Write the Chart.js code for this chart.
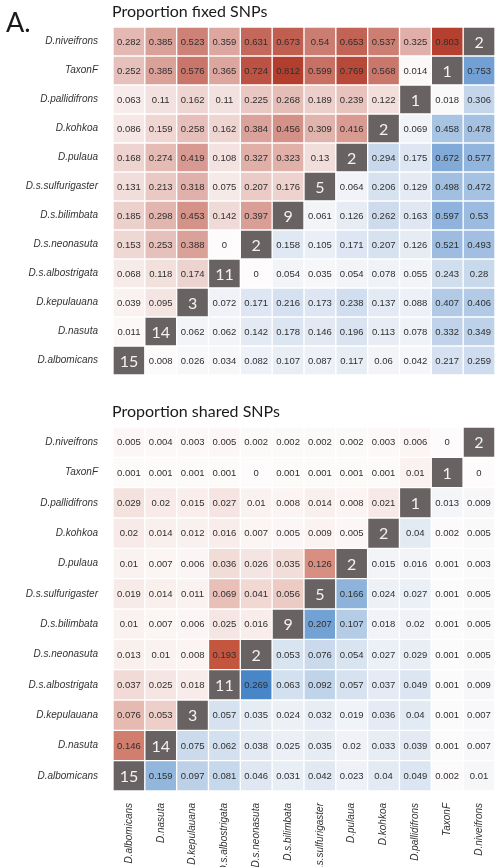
<!DOCTYPE html>
<html>
<head>
<meta charset="utf-8">
<script src="https://cdn.jsdelivr.net/npm/chart.js@4.4.1/dist/chart.umd.min.js"></script>
<style>
  html, body { margin: 0; padding: 0; background: #fff; }
  #page { position: relative; width: 495px; height: 867px; overflow: hidden; }
  .box { position: absolute; left: 0; width: 495px; }
  .heading { position: absolute; font-family: Lato, "Open Sans", sans-serif; color: #1a1a1a; line-height: 1; white-space: nowrap; }
</style>
</head>
<body>
<div id="page">
  <div class="box" style="top:0; height:388px;"><canvas id="fixedChart"></canvas></div>
  <div class="box" style="top:400px; height:467px;"><canvas id="sharedChart"></canvas></div>
  <div class="heading" style="left:6px; top:8px; font-size:27px;">A.</div>
  <div class="heading" style="left:112px; top:3px; font-size:16px;">Proportion fixed SNPs</div>
  <div class="heading" style="left:112px; top:403px; font-size:16px;">Proportion shared SNPs</div>
</div>
<script>
// Taxa in column order (left to right); rows use the same taxa from the bottom up.
const taxa = ['D.albomicans', 'D.nasuta', 'D.kepulauana', 'D.s.albostrigata', 'D.s.neonasuta',
  'D.s.bilimbata', 'D.s.sulfurigaster', 'D.pulaua', 'D.kohkoa', 'D.pallidifrons', 'TaxonF', 'D.niveifrons'];

// Number of individuals per taxon, shown on the diagonal.
const sampleSizes = [15, 14, 3, 11, 2, 9, 5, 2, 2, 1, 1, 2];

// Rows listed from the top (D.niveifrons) down to D.albomicans; null marks the diagonal.
const fixedProportion = [
  [0.282, 0.385, 0.523, 0.359, 0.631, 0.673, 0.54, 0.653, 0.537, 0.325, 0.803, null],
  [0.252, 0.385, 0.576, 0.365, 0.724, 0.812, 0.599, 0.769, 0.568, 0.014, null, 0.753],
  [0.063, 0.11, 0.162, 0.11, 0.225, 0.268, 0.189, 0.239, 0.122, null, 0.018, 0.306],
  [0.086, 0.159, 0.258, 0.162, 0.384, 0.456, 0.309, 0.416, null, 0.069, 0.458, 0.478],
  [0.168, 0.274, 0.419, 0.108, 0.327, 0.323, 0.13, null, 0.294, 0.175, 0.672, 0.577],
  [0.131, 0.213, 0.318, 0.075, 0.207, 0.176, null, 0.064, 0.206, 0.129, 0.498, 0.472],
  [0.185, 0.298, 0.453, 0.142, 0.397, null, 0.061, 0.126, 0.262, 0.163, 0.597, 0.53],
  [0.153, 0.253, 0.388, 0, null, 0.158, 0.105, 0.171, 0.207, 0.126, 0.521, 0.493],
  [0.068, 0.118, 0.174, null, 0, 0.054, 0.035, 0.054, 0.078, 0.055, 0.243, 0.28],
  [0.039, 0.095, null, 0.072, 0.171, 0.216, 0.173, 0.238, 0.137, 0.088, 0.407, 0.406],
  [0.011, null, 0.062, 0.062, 0.142, 0.178, 0.146, 0.196, 0.113, 0.078, 0.332, 0.349],
  [null, 0.008, 0.026, 0.034, 0.082, 0.107, 0.087, 0.117, 0.06, 0.042, 0.217, 0.259]
];

const sharedProportion = [
  [0.005, 0.004, 0.003, 0.005, 0.002, 0.002, 0.002, 0.002, 0.003, 0.006, 0, null],
  [0.001, 0.001, 0.001, 0.001, 0, 0.001, 0.001, 0.001, 0.001, 0.01, null, 0],
  [0.029, 0.02, 0.015, 0.027, 0.01, 0.008, 0.014, 0.008, 0.021, null, 0.013, 0.009],
  [0.02, 0.014, 0.012, 0.016, 0.007, 0.005, 0.009, 0.005, null, 0.04, 0.002, 0.005],
  [0.01, 0.007, 0.006, 0.036, 0.026, 0.035, 0.126, null, 0.015, 0.016, 0.001, 0.003],
  [0.019, 0.014, 0.011, 0.069, 0.041, 0.056, null, 0.166, 0.024, 0.027, 0.001, 0.005],
  [0.01, 0.007, 0.006, 0.025, 0.016, null, 0.207, 0.107, 0.018, 0.02, 0.001, 0.005],
  [0.013, 0.01, 0.008, 0.193, null, 0.053, 0.076, 0.054, 0.027, 0.029, 0.001, 0.005],
  [0.037, 0.025, 0.018, null, 0.269, 0.063, 0.092, 0.057, 0.037, 0.049, 0.001, 0.009],
  [0.076, 0.053, null, 0.057, 0.035, 0.024, 0.032, 0.019, 0.036, 0.04, 0.001, 0.007],
  [0.146, null, 0.075, 0.062, 0.038, 0.025, 0.035, 0.02, 0.033, 0.039, 0.001, 0.007],
  [null, 0.159, 0.097, 0.081, 0.046, 0.031, 0.042, 0.023, 0.04, 0.049, 0.002, 0.01]
];

const DIAGONAL_COLOR = '#686262';
const PALE = [253, 251, 251];

function blend(hi, t) {
  const k = Math.max(0, Math.min(1, t));
  return 'rgb(' + PALE.map((lo, i) => Math.round(lo + (hi[i] - lo) * k)).join(',') + ')';
}

// One floating-bar dataset per row; each bar spans [row, row + 1] on the y scale.
function buildDatasets(matrix, redTop, blueTop) {
  const n = taxa.length;
  let redMax = 0, blueMax = 0;
  matrix.forEach((row, i) => row.forEach((v, c) => {
    const k = n - 1 - i;
    if (v === null) return;
    if (c < k) redMax = Math.max(redMax, v); else blueMax = Math.max(blueMax, v);
  }));
  return taxa.map((name, k) => {
    const row = matrix[n - 1 - k];
    return {
      label: name,
      data: taxa.map(() => [k, k + 1]),
      backgroundColor: row.map((v, c) => c === k ? DIAGONAL_COLOR
        : (c < k ? blend(redTop, v / redMax) : blend(blueTop, v / blueMax))),
      cellText: row.map((v, c) => c === k ? String(sampleSizes[k]) : String(v))
    };
  });
}

// Writes each cell's value in the middle of its bar.
const cellText = {
  id: 'cellText',
  afterDatasetsDraw(chart) {
    const ctx = chart.ctx;
    ctx.save();
    ctx.textAlign = 'center';
    ctx.textBaseline = 'middle';
    chart.data.datasets.forEach((ds, di) => {
      const meta = chart.getDatasetMeta(di);
      meta.data.forEach((bar, c) => {
        const cx = bar.x;
        const cy = (bar.y + bar.base) / 2;
        if (c === di) {
          ctx.font = '16px Lato, "Open Sans", sans-serif';
          ctx.fillStyle = '#f4f2f2';
          ctx.fillText(ds.cellText[c], cx, cy + 1);
        } else {
          ctx.font = '9.5px "Liberation Sans", Arial, sans-serif';
          ctx.fillStyle = '#2f2f2f';
          ctx.fillText(ds.cellText[c], cx, cy + 0.5);
        }
      });
    });
    ctx.restore();
  }
};

const labelFont = { family: '"Liberation Sans", Arial, sans-serif', size: 10, style: 'italic' };

function columnAxis(showColumns) {
  if (!showColumns) {
    return { display: false, grid: { display: false }, ticks: { display: false } };
  }
  return {
    grid: { display: false },
    border: { display: false },
    ticks: {
      autoSkip: false, minRotation: 90, maxRotation: 90,
      font: labelFont, color: '#333', padding: 4
    },
    afterFit(scale) { scale.height = 76; }
  };
}

function makeHeatmap(canvasId, matrix, redTop, blueTop, showColumns) {
  return new Chart(document.getElementById(canvasId), {
    type: 'bar',
    data: { labels: taxa, datasets: buildDatasets(matrix, redTop, blueTop) },
    options: {
      responsive: true,
      maintainAspectRatio: false,
      animation: false,
      devicePixelRatio: 1,
      layout: { padding: { top: 27, right: 0, bottom: 0, left: 0 } },
      datasets: {
        bar: {
          grouped: false,
          categoryPercentage: 1,
          barPercentage: 1,
          borderWidth: 1,
          borderColor: '#ffffff',
          borderSkipped: false
        }
      },
      scales: {
        x: columnAxis(showColumns),
        y: {
          min: 0,
          max: taxa.length,
          grid: { display: false },
          border: { display: false },
          afterBuildTicks(scale) { scale.ticks = taxa.map((_, i) => ({ value: i + 0.5 })); },
          ticks: {
            autoSkip: false,
            callback: (v) => taxa[Math.floor(v)],
            font: labelFont, color: '#333', padding: 7
          },
          afterFit(scale) { scale.width = 113; }
        }
      },
      plugins: { legend: { display: false }, tooltip: { enabled: false }, title: { display: false } }
    },
    plugins: [cellText]
  });
}

makeHeatmap('fixedChart', fixedProportion, [180, 62, 45], [114, 160, 212], false);
makeHeatmap('sharedChart', sharedProportion, [196, 86, 64], [72, 134, 199], true);
</script>
</body>
</html>
